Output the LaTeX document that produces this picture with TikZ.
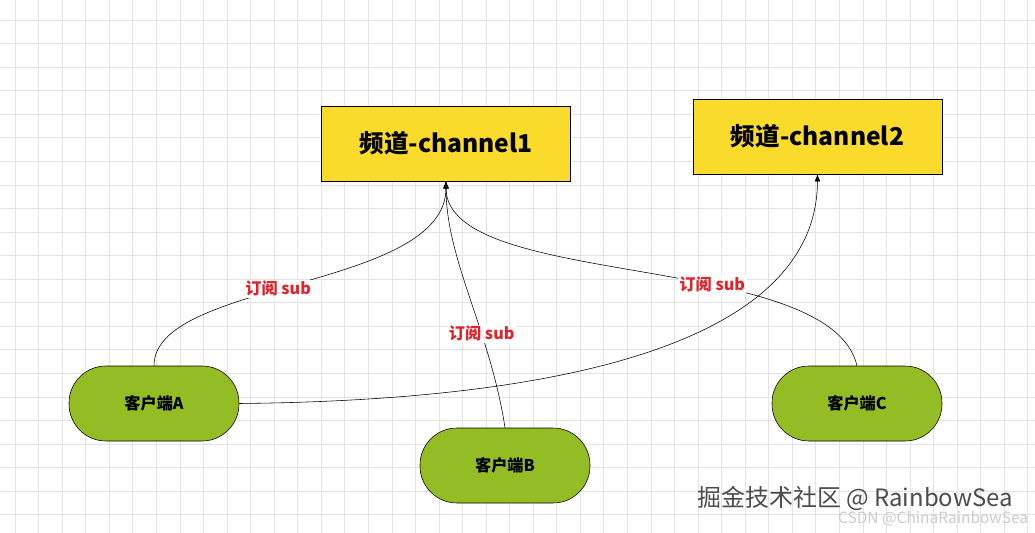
\documentclass[tikz,border=0pt]{standalone}
\usepackage{fontspec}
\setmainfont{Noto Sans CJK SC}
\usetikzlibrary{arrows.meta}
\definecolor{chanYellow}{HTML}{FADB2C}
\definecolor{clientGreen}{HTML}{94BC24}
\definecolor{subRed}{HTML}{E0232B}
\definecolor{gridGray}{HTML}{E2E2E2}
\tikzset{
    channel/.style={draw=black, fill=chanYellow, minimum width=249*0.025cm, minimum height=75*0.025cm, font=\fontsize{17.5}{19}\selectfont\bfseries},
    client/.style={draw=black, fill=clientGreen, rounded corners=37*0.025cm, minimum width=170*0.025cm, minimum height=75*0.025cm, font=\fontsize{11.5}{13}\selectfont\bfseries},
    sub/.style={fill=white, inner sep=1pt, text=subRed, font=\fontsize{11.5}{13}\selectfont\bfseries},
    link/.style={black, thin, -{Latex[length=5pt,width=4pt]}}
}
\begin{document}
\begin{tikzpicture}[x=0.025cm, y=-0.025cm]
        \useasboundingbox (0,0) rectangle (1035,533);
        \fill[white] (0,0) rectangle (1035,533);
        % grid
        \foreach \i in {0,...,43} {
            \draw[gridGray, line width=0.4pt] (15+23.55*\i,0) -- (15+23.55*\i,533);
        }
        \foreach \j in {0,...,22} {
            \draw[gridGray, line width=0.4pt] (0,20+23.55*\j) -- (1035,20+23.55*\j);
        }
        \node[channel] (ch1) at (446,143.5) {频道-channel1};
        \node[channel] (ch2) at (817.5,136.5) {频道-channel2};
        \node[client] (cA) at (154,403.5) {客户端A};
        \node[client] (cB) at (505,465.5) {客户端B};
        \node[client] (cC) at (857,403.5) {客户端C};
        \draw[link] (cA.north) .. controls (154,280) and (446,290) .. node[sub, pos=0.45] (sA) {订阅 sub} (ch1.south);
        \draw[link] (cB.north) .. controls (490,330) and (446,260) .. node[sub, pos=0.35] (sB) {订阅 sub} (ch1.south);
        \draw[link] (cC.north) .. controls (830,250) and (446,290) .. node[sub, pos=0.38] (sC) {订阅 sub} (ch1.south);
        \draw[link] (cA.east) .. controls (600,400) and (817,330) .. (ch2.south);
        % watermark
        \node[text=gray!60!black, font=\fontsize{17}{19}\selectfont, anchor=east] (wm1) at (1018,498) {掘金技术社区 @ RainbowSea};
        \node[text=gray!40, font=\fontsize{11}{13}\selectfont, anchor=east] (wm2) at (1033,519) {CSDN @ChinaRainbowSea};
\end{tikzpicture}
\end{document}
